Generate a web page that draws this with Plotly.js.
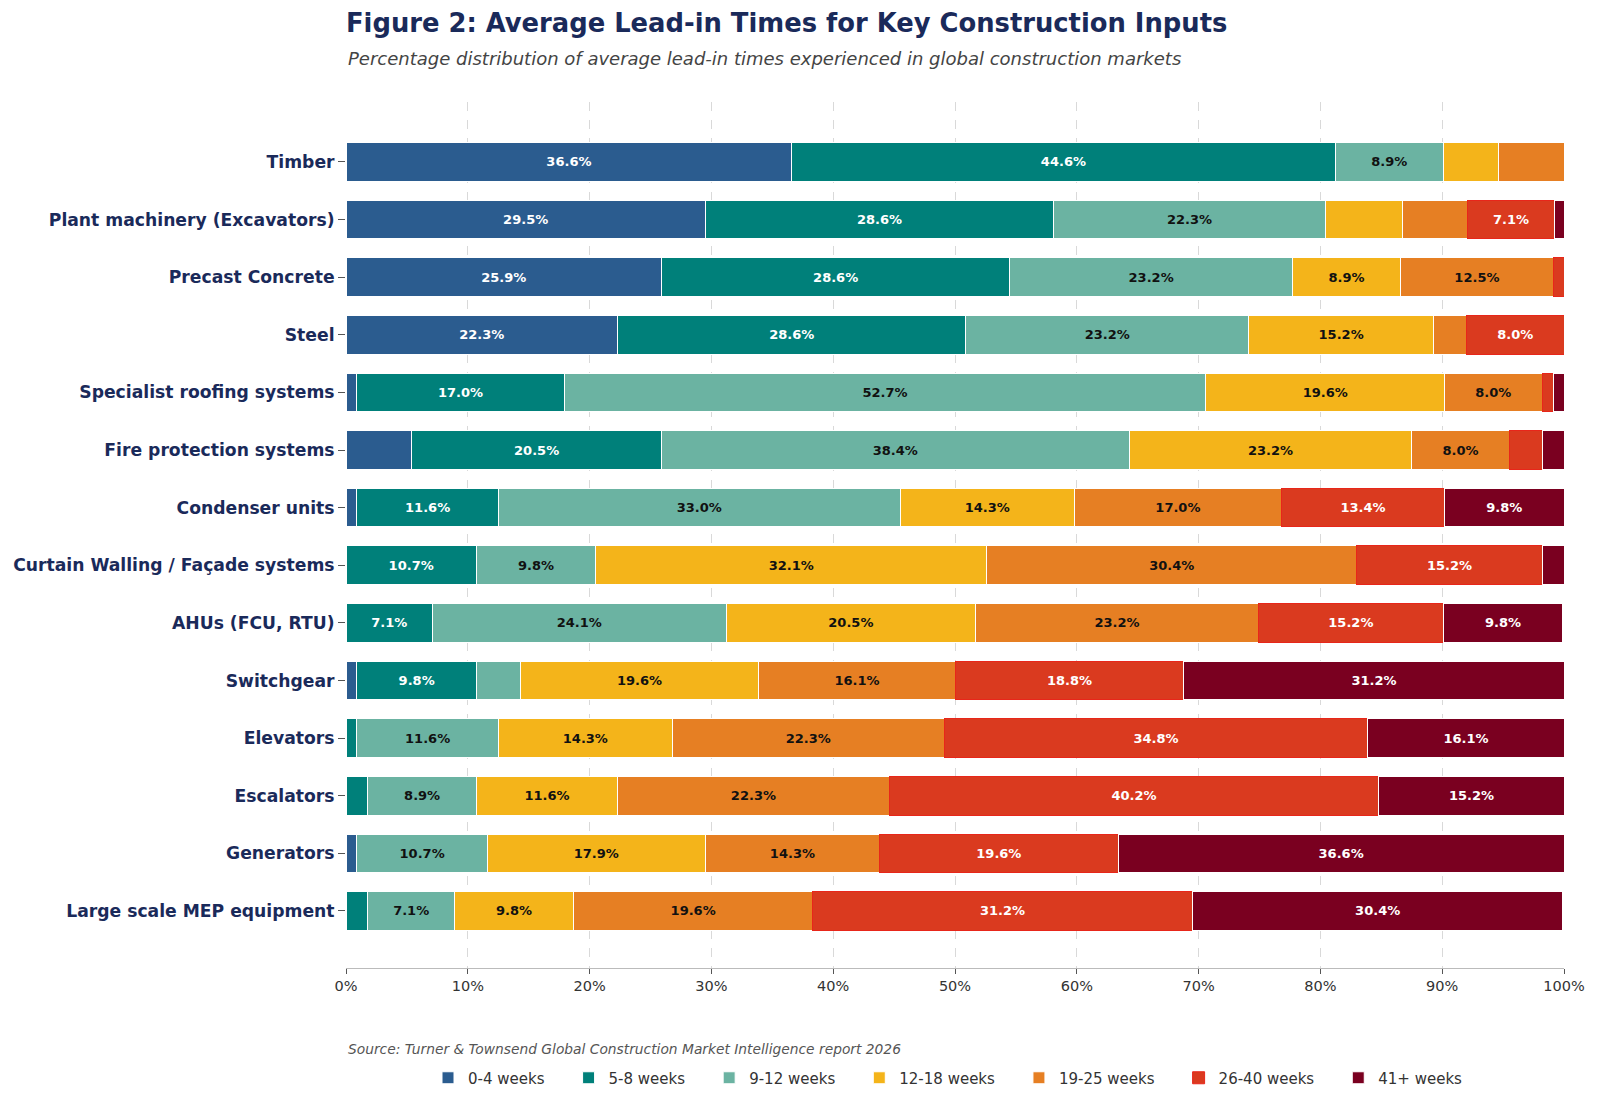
<!DOCTYPE html>
<html>
<head>
<meta charset="utf-8">
<script src="https://cdn.plot.ly/plotly-3.0.1.min.js"></script>
<style>html,body{margin:0;padding:0;background:#fff;}#chart{width:1600px;height:1105px;}</style>
</head>
<body>
<div id="chart"></div>
<script>
const categories = ["Timber","Plant machinery (Excavators)","Precast Concrete","Steel","Specialist roofing systems","Fire protection systems","Condenser units","Curtain Walling / Façade systems","AHUs (FCU, RTU)","Switchgear","Elevators","Escalators","Generators","Large scale MEP equipment"];
const seriesNames = ["0-4 weeks","5-8 weeks","9-12 weeks","12-18 weeks","19-25 weeks","26-40 weeks","41+ weeks"];
const w0_4   = [36.6, 29.5, 25.9, 22.3, 0.9, 5.4, 0.9, 0, 0, 0.9, 0, 0, 0.9, 0];
const w5_8   = [44.6, 28.6, 28.6, 28.6, 17.0, 20.5, 11.6, 10.7, 7.1, 9.8, 0.9, 1.8, 0, 1.8];
const w9_12  = [8.9, 22.3, 23.2, 23.2, 52.7, 38.4, 33.0, 9.8, 24.1, 3.6, 11.6, 8.9, 10.7, 7.1];
const w12_18 = [4.5, 6.3, 8.9, 15.2, 19.6, 23.2, 14.3, 32.1, 20.5, 19.6, 14.3, 11.6, 17.9, 9.8];
const w19_25 = [5.4, 5.4, 12.5, 2.7, 8.0, 8.0, 17.0, 30.4, 23.2, 16.1, 22.3, 22.3, 14.3, 19.6];
const w26_40 = [0, 7.1, 0.9, 8.0, 0.9, 2.7, 13.4, 15.2, 15.2, 18.8, 34.8, 40.2, 19.6, 31.2];
const w41    = [0, 0.9, 0, 0, 0.9, 1.8, 9.8, 1.8, 9.8, 31.2, 16.1, 15.2, 36.6, 30.4];
const xTickVals = [0,10,20,30,40,50,60,70,80,90,100];
const xTickText = ["0%","10%","20%","30%","40%","50%","60%","70%","80%","90%","100%"];

const seriesValues = [w0_4, w5_8, w9_12, w12_18, w19_25, w26_40, w41];
const colors = ["#2b5c8f","#00807a","#6bb3a2","#f4b41a","#e67f23","#da3a1f","#7a0020"];
const textColors = ["#ffffff","#ffffff","#111111","#111111","#111111","#ffffff","#ffffff"];
const lineColors = ["#ffffff","#ffffff","#ffffff","#ffffff","#ffffff","#e8261a","#ffffff"];
const legendPad = '\u00a0\u00a0\u00a0\u00a0';

const traces = seriesValues.map((vals, i) => ({
  type: 'bar',
  orientation: 'h',
  name: seriesNames[i] + legendPad,
  y: categories,
  x: vals,
  marker: {color: colors[i], line: {color: lineColors[i], width: 1}},
  text: vals.map(v => v >= 7 ? v.toFixed(1) + '%' : ''),
  textposition: 'inside',
  insidetextanchor: 'middle',
  textangle: 0,
  constraintext: 'none',
  textfont: {family: 'DejaVu Sans', size: 13, color: textColors[i], weight: 'bold'},
  hoverinfo: 'skip'
}));

const plotTop = 102, plotBottom = 969, plotH = plotBottom - plotTop;
const plotL = 346, plotR = 1564, plotW = plotR - plotL;
const layout = {
  width: 1600, height: 1105,
  barmode: 'stack',
  bargap: 0.33,
  paper_bgcolor: '#ffffff', plot_bgcolor: '#ffffff',
  font: {family: 'DejaVu Sans', color: '#333333'},
  margin: {l: plotL, r: 1600 - plotR, t: plotTop, b: 1105 - plotBottom, pad: 0},
  title: {
    text: '<b>Figure 2: Average Lead-in Times for Key Construction Inputs</b>',
    x: plotL/1600, xanchor: 'left', xref: 'container',
    y: 1 - 22.5/1105, yanchor: 'middle', yref: 'container',
    font: {family: 'DejaVu Sans', size: 25.8, color: '#1a2a5a'}
  },
  xaxis: {
    range: [0, 100],
    tickvals: xTickVals, ticktext: xTickText,
    showgrid: true, gridcolor: '#d9d9d9', griddash: 'dash', gridwidth: 1,
    showline: true, linecolor: '#bbbbbb', linewidth: 1,
    ticks: 'outside', ticklen: 5, tickcolor: '#555555',
    tickfont: {family: 'DejaVu Sans', size: 14.5, color: '#333333'},
    zeroline: false, fixedrange: true
  },
  yaxis: {
    type: 'category',
    range: [13.99, -1.04],
    showgrid: false, zeroline: false, showline: false,
    ticks: 'outside', ticklen: 7, tickcolor: '#555555',
    tickfont: {family: 'DejaVu Sans', size: 17.2, color: '#1a2a5a', weight: 'bold'},
    fixedrange: true
  },
  legend: {
    orientation: 'h', x: (956 + 1 - plotL) / plotW, xanchor: 'center',
    y: (plotBottom - 1078) / plotH, yanchor: 'middle',
    font: {family: 'DejaVu Sans', size: 15, color: '#333333'},
    traceorder: 'normal'
  },
  annotations: [
    {
      text: 'Percentage distribution of average lead-in times experienced in global construction markets',
      xref: 'paper', yref: 'paper', x: 0, xanchor: 'left',
      y: 1 + (plotTop - 58) / plotH, yanchor: 'middle', showarrow: false,
      font: {family: 'DejaVu Sans', size: 18, color: '#444444', style: 'italic'}
    },
    {
      text: 'Source: Turner & Townsend Global Construction Market Intelligence report 2026',
      xref: 'paper', yref: 'paper', x: 0, xanchor: 'left',
      y: (plotBottom - 1050) / plotH, yanchor: 'middle', showarrow: false,
      font: {family: 'DejaVu Sans', size: 13.8, color: '#555555', style: 'italic'}
    }
  ]
};

Plotly.newPlot('chart', traces, layout, {staticPlot: true, displayModeBar: false});
</script>
</body>
</html>
